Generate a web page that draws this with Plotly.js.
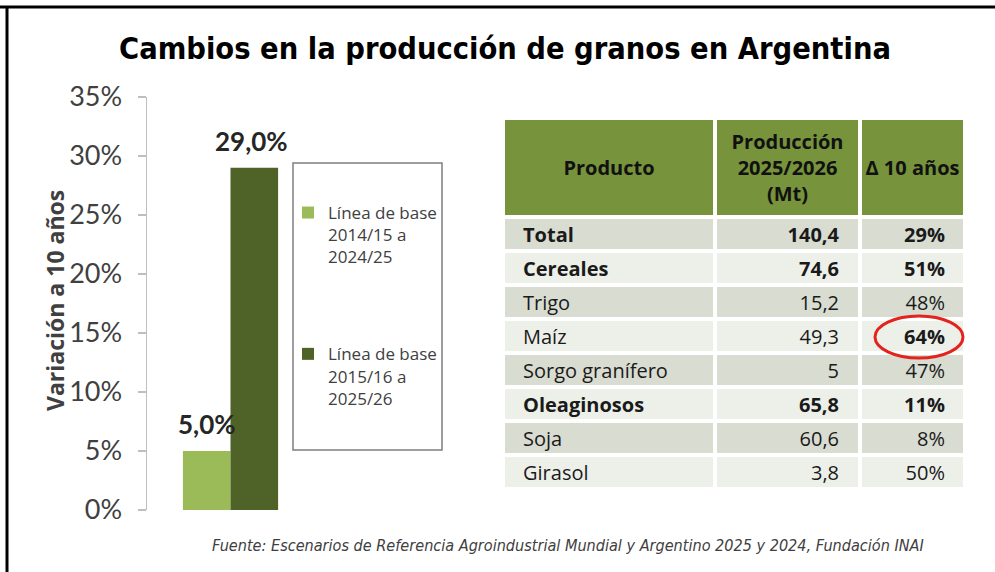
<!DOCTYPE html>
<html>
<head>
<meta charset="utf-8">
<script src="https://cdn.plot.ly/plotly-3.0.1.min.js"></script>
<style>html,body{margin:0;padding:0;background:#fff;}#chart{width:995px;height:572px;}</style>
</head>
<body>
<div id="chart"></div>
<script>
// ---- Data ----
const barCategory = ['Argentina'];
const seriesNames = ['Línea de base<br>2014/15 a<br>2024/25', 'Línea de base<br>2015/16 a<br>2025/26'];
const seriesValues = [0.05, 0.29];
const seriesColors = ['#9bbb59', '#4f6228'];

const yTickValues = [0, 0.05, 0.10, 0.15, 0.20, 0.25, 0.30, 0.35];

const tableHeaders = ['Producto', 'Producción<br>2025/2026<br>(Mt)', 'Δ 10 años'];
const products = ['Total', 'Cereales', 'Trigo', 'Maíz', 'Sorgo granífero', 'Oleaginosos', 'Soja', 'Girasol'];
const production = ['140,4', '74,6', '15,2', '49,3', '5', '65,8', '60,6', '3,8'];
const change10y = ['29%', '51%', '48%', '64%', '47%', '11%', '8%', '50%'];
const boldRows = [true, true, false, false, false, true, false, false];
const highlightedRow = 3; // Maíz, circled in red

// ---- styling constants ----
const columnWidths = [212, 145, 105];
const headerHeight = 99;
const rowHeight = 34;
const textNudge = 3;
const labelXShift = [-24, 21];
const labelYShift = 9;

// ---- helpers (pixel -> paper) ----
const W = 995, H = 572;
const px = x => x / W;
const py = y => 1 - y / H;
const fmt = (v, i) => boldRows[i] ? '<b>' + v + '</b>' : v;
const pct1 = v => (v * 100).toFixed(1).replace('.', ',') + '%';

const colEdges = columnWidths.reduce((a, w) => { a.push(a[a.length - 1] + w); return a; }, [0]);
const rowEdges = [0, headerHeight].concat(products.map((_, i) => headerHeight + rowHeight * (i + 1)));
const tableW = colEdges[colEdges.length - 1];
const tableH = rowEdges[rowEdges.length - 1];
const rowCenters = products.map((_, i) => headerHeight + rowHeight * (i + 0.5) + textNudge);
const colCenters = columnWidths.map((w, i) => colEdges[i] + w / 2);

// fill codes: 0 header, 1 darker row, 2 lighter row
const fillZ = [[0, 0, 0]].concat(products.map((_, i) => {
  const c = i % 2 === 0 ? 1 : 2; return [c, c, c];
}));

const barTraces = seriesValues.map((v, i) => ({
  type: 'bar',
  x: barCategory,
  y: [v],
  name: seriesNames[i],
  legendgroup: 'g' + i,
  marker: {color: seriesColors[i]},
  hoverinfo: 'skip'
}));

const labelAnnotations = seriesValues.map((v, i) => ({
  text: '<b>' + pct1(v) + '</b>',
  x: barCategory[0], y: v, xref: 'x', yref: 'y',
  xshift: labelXShift[i], yshift: labelYShift,
  xanchor: 'center', yanchor: 'bottom', showarrow: false,
  font: {family: 'Lato', size: 26, color: '#262626'}
}));

const tableFont = {family: 'Open Sans', size: 20, color: '#1a1a1a'};

const tableTraces = [
  {
    type: 'heatmap', xaxis: 'x2', yaxis: 'y2',
    x: colEdges, y: rowEdges, z: fillZ,
    zmin: 0, zmax: 2,
    colorscale: [[0, '#77933c'], [0.5, '#d8dcd1'], [1, '#edf0e9']],
    xgap: 4, ygap: 4, showscale: false, hoverinfo: 'skip'
  },
  {
    type: 'scatter', mode: 'text', xaxis: 'x2', yaxis: 'y2',
    x: colCenters, y: colCenters.map(() => headerHeight / 2 + 2),
    text: tableHeaders.map(t => '<b>' + t.split('<br>').join('</b><br><b>') + '</b>'),
    textposition: 'middle center',
    textfont: {family: 'Open Sans', size: 20, color: '#111111'},
    showlegend: false, hoverinfo: 'skip', cliponaxis: false
  },
  {
    type: 'scatter', mode: 'text', xaxis: 'x2', yaxis: 'y2',
    x: products.map(() => colEdges[0] + 20), y: rowCenters,
    text: products.map(fmt),
    textposition: 'middle right', textfont: tableFont,
    showlegend: false, hoverinfo: 'skip', cliponaxis: false
  },
  {
    type: 'scatter', mode: 'text', xaxis: 'x2', yaxis: 'y2',
    x: production.map(() => colEdges[2] - 21), y: rowCenters,
    text: production.map(fmt),
    textposition: 'middle left', textfont: tableFont,
    showlegend: false, hoverinfo: 'skip', cliponaxis: false
  },
  {
    type: 'scatter', mode: 'text', xaxis: 'x2', yaxis: 'y2',
    x: change10y.map(() => colEdges[3] - 20), y: rowCenters,
    text: change10y.map((v, i) => (boldRows[i] || i === highlightedRow) ? '<b>' + v + '</b>' : v),
    textposition: 'middle left', textfont: tableFont,
    showlegend: false, hoverinfo: 'skip', cliponaxis: false
  }
];

const layout = {
  width: W, height: H,
  margin: {l: 0, r: 0, t: 0, b: 0},
  paper_bgcolor: '#ffffff',
  plot_bgcolor: 'rgba(0,0,0,0)',
  separators: ',.',
  showlegend: true,
  barmode: 'group',
  bargap: 0.43,
  bargroupgap: 0,
  title: {
    text: '<b>Cambios en la producción de granos en Argentina</b>',
    font: {family: 'DejaVu Sans Condensed', size: 30.5, color: '#000000'},
    x: px(505), xanchor: 'center', xref: 'paper',
    y: py(48), yanchor: 'middle', yref: 'paper'
  },
  xaxis: {
    domain: [px(147), px(314)],
    showline: false, showticklabels: false, ticks: '', showgrid: false, zeroline: false,
    fixedrange: true
  },
  yaxis: {
    domain: [py(510), py(97)],
    range: [0, 0.35],
    tickvals: yTickValues,
    tickformat: '.0%',
    ticks: 'outside', ticklen: 8, tickcolor: '#bfbfbf', tickwidth: 1.5,
    ticklabelstandoff: 10,
    showline: true, linecolor: '#bfbfbf', linewidth: 1.5,
    showgrid: false, zeroline: false,
    tickfont: {family: 'Lato', size: 27, color: '#404040'},
    automargin: false,
    fixedrange: true
  },
  xaxis2: {
    domain: [px(503), px(503 + 462)], anchor: 'y2',
    range: [0, tableW],
    visible: false, fixedrange: true
  },
  yaxis2: {
    domain: [py(118 + 371), py(118)], anchor: 'x2',
    range: [tableH, 0],
    visible: false, fixedrange: true
  },
  legend: {
    x: px(288), y: py(195), xanchor: 'left', yanchor: 'top',
    bgcolor: 'rgba(0,0,0,0)', borderwidth: 0,
    traceorder: 'grouped', tracegroupgap: 72,
    valign: 'top',
    font: {family: 'Open Sans', size: 17, color: '#404040'},
    itemwidth: 30
  },
  annotations: labelAnnotations.concat([
    {
      text: '<b>Variación a 10 años</b>',
      textangle: -90,
      x: px(55), y: py(301), xref: 'paper', yref: 'paper',
      xanchor: 'center', yanchor: 'middle', showarrow: false,
      font: {family: 'Open Sans', size: 23, color: '#404040'}
    },
    {
      text: '<i>Fuente: Escenarios de Referencia Agroindustrial Mundial y Argentino 2025 y 2024, Fundación INAI</i>',
      x: px(568), y: py(545), xref: 'paper', yref: 'paper',
      xanchor: 'center', yanchor: 'middle', showarrow: false,
      font: {family: 'DejaVu Sans Condensed', size: 16.1, color: '#404040'}
    }
  ]),
  shapes: [
    {type: 'rect', xref: 'paper', yref: 'paper', x0: px(293), x1: px(442), y0: py(450), y1: py(163),
     line: {color: '#7f7f7f', width: 1.5}, fillcolor: 'rgba(0,0,0,0)'},
    {type: 'circle', xref: 'paper', yref: 'paper', x0: px(875), x1: px(963), y0: py(358), y1: py(316),
     line: {color: '#e3231e', width: 3}, fillcolor: 'rgba(0,0,0,0)', layer: 'above'},
    {type: 'line', xref: 'paper', yref: 'paper', x0: 0, x1: 1, y0: py(7), y1: py(7),
     line: {color: '#000000', width: 3}},
    {type: 'line', xref: 'paper', yref: 'paper', x0: px(7), x1: px(7), y0: 0, y1: py(7),
     line: {color: '#000000', width: 3}}
  ]
};

Plotly.newPlot('chart', [...barTraces, ...tableTraces], layout, {staticPlot: true, displayModeBar: false});
</script>
</body>
</html>
